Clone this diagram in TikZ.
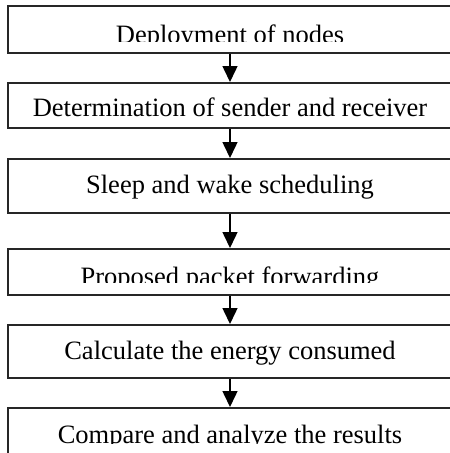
\documentclass[tikz,border=0pt]{standalone}
\usepackage{fontspec}
\setmainfont{Liberation Serif}
\usetikzlibrary{arrows.meta}
\begin{document}
\begin{tikzpicture}[x=1pt,y=-1pt,
  stepbox/.style={draw=black!85,line width=1.8pt,rectangle,inner sep=0pt,minimum width=444pt,anchor=north},
  steptext/.style={font=\fontsize{26.5}{30}\selectfont,anchor=base,inner sep=0pt,text=black},
  arr/.style={line width=1.5pt,draw=black,-{Triangle[length=16pt,width=15pt]}}]
\useasboundingbox (0,0) rectangle (450,453);
\begin{scope}
\clip (0,0) rectangle (450,453);
\node[stepbox,minimum height=47pt] (b1) at (230,5) {};
\node[stepbox,minimum height=45pt] (b2) at (230,82) {};
\node[stepbox,minimum height=54pt] (b3) at (230,158) {};
\node[stepbox,minimum height=46pt] (b4) at (230,248) {};
\node[stepbox,minimum height=53pt] (b5) at (230,324) {};
\node[stepbox,minimum height=60pt] (b6) at (230,407) {};
\end{scope}
\coordinate (ax) at (230,0);
\begin{scope}
\clip (0,0) rectangle (450,41);
\node[steptext] (t1) at (230,43) {Deployment of nodes};
\end{scope}
\node[steptext] (t2) at (230,116.7) {Determination of sender and receiver};
\node[steptext] (t3) at (230,193.5) {Sleep and wake scheduling};
\begin{scope}
\clip (0,240) rectangle (450,282.5);
\node[steptext] (t4) at (230,285) {Proposed packet forwarding};
\end{scope}
\node[steptext] (t5) at (230,359.5) {Calculate the energy consumed};
\begin{scope}
\clip (0,400) rectangle (450,443.5);
\node[steptext] (t6) at (230,443.5) {Compare and analyze the results};
\end{scope}
\draw[arr] (b1.south -| ax) -- (b2.north -| ax);
\draw[arr] (b2.south -| ax) -- (b3.north -| ax);
\draw[arr] (b3.south -| ax) -- (b4.north -| ax);
\draw[arr] (b4.south -| ax) -- (b5.north -| ax);
\draw[arr] (b5.south -| ax) -- (b6.north -| ax);
\end{tikzpicture}
\end{document}
